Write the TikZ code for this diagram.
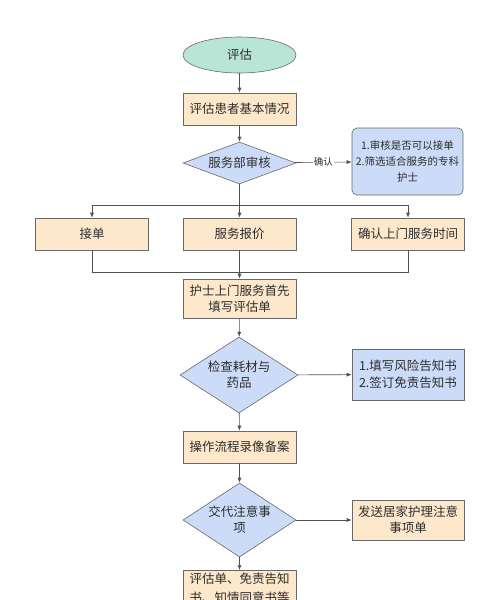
\documentclass[tikz,border=0pt]{standalone}
\usepackage{fontspec}
\setmainfont{Noto Sans CJK SC}
\usetikzlibrary{shapes.geometric,arrows.meta,positioning,calc}
\definecolor{flowMint}{RGB}{185,229,214}
\definecolor{flowPeach}{RGB}{253,232,204}
\definecolor{flowBlue}{RGB}{204,220,248}
\definecolor{flowEdge}{RGB}{105,105,105}
\definecolor{flowLine}{RGB}{80,80,80}
\definecolor{flowText}{RGB}{45,45,45}

\tikzset{
  stepbox/.style={draw=flowEdge, fill=flowPeach, line width=0.6pt, minimum width=113pt, minimum height=32pt, inner sep=2pt, align=center, text=flowText, font=\fontsize{12.5}{16}\selectfont},
  notebox/.style={draw=flowEdge, fill=flowBlue, line width=0.6pt, minimum width=112pt, inner sep=2pt, align=center, text=flowText},
  checkdiamond/.style={diamond, draw=flowEdge, fill=flowBlue, line width=0.6pt, inner sep=0pt, align=center, text=flowText, font=\fontsize{12.5}{16}\selectfont},
  flow/.style={draw=flowLine, line width=0.6pt, -{Latex[length=5pt,width=4pt]}},
  plain/.style={draw=flowLine, line width=0.6pt}
}

\begin{document}
\begin{tikzpicture}[x=1pt,y=-1pt]

\fill[white] (0,0) rectangle (500,600);
\clip (0,0) rectangle (500,600);

% ===== MAIN COLUMN =====
\node[ellipse, draw=flowEdge, fill=flowMint, line width=0.6pt, minimum width=113pt, minimum height=36pt, text=flowText, font=\fontsize{12.5}{16}\selectfont] (start) at (239.5, 55) {评估};

% Step 1: basic condition
\node[stepbox] (assess) at (239.5, 109) {评估患者基本情况};

% Decision 1: department review
\node[checkdiamond, aspect=2.7, minimum width=113pt, minimum height=42pt] (review) at (239.5, 163) {服务部审核};

% Review note
\node[notebox, rounded corners=5pt, minimum width=111pt, minimum height=67pt, font=\fontsize{10.5}{16}\selectfont] (reviewnote) at (407.5, 161.5) {1.审核是否可以接单\\2.筛选适合服务的专科\\护士};

% Three parallel boxes
\node[stepbox] (accept) at (92, 234) {接单};
\node[stepbox] (quote) at (239.5, 234) {服务报价};
\node[stepbox] (visittime) at (408, 234) {确认上门服务时间};

% Step 2: fill in form
\node[stepbox, minimum height=39pt] (fillform) at (239.5, 298.5) {护士上门服务首先\\填写评估单};

% Decision 2: materials
\node[checkdiamond, aspect=1.5, minimum width=118pt, minimum height=76pt] (materials) at (239, 375) {检查耗材与\\药品};

% Materials note
\node[notebox, minimum height=51pt, font=\fontsize{12.5}{17}\selectfont] (consent) at (408, 374.5) {1.填写风险告知书\\2.签订免责告知书};

% Step 3: video record
\node[stepbox] (record) at (239.5, 447) {操作流程录像备案};

% Decision 3: instructions
\node[checkdiamond, aspect=1.6, minimum width=113pt, minimum height=74pt] (explain) at (239.5, 520) {交代注意事\\项};

% Home care sheet
\node[stepbox, minimum width=112pt, minimum height=40pt] (homecare) at (408, 520) {发送居家护理注意\\事项单};

% Step 4: documents (runs off the page)
\node[stepbox, anchor=north, minimum height=0pt, inner xsep=2pt, inner ysep=2.5pt, font=\fontsize{12.5}{19}\selectfont] (documents) at (239.5, 570) {评估单、免责告知\\书、知情同意书等};

% Split and join points
\coordinate (split) at (239.5, 205);
\coordinate (join) at (239.5, 272);

% ===== CONNECTORS =====
\draw[flow] (start) -- (assess);
\draw[flow] (assess) -- (review);
\draw[flow] (review) -- node[fill=white, inner sep=1pt, text=flowText, font=\fontsize{9.5}{11}\selectfont] {确认} (reviewnote);
\draw[plain] (review) -- (split);
\draw[flow] (split) -| (accept);
\draw[flow] (split) -- (quote);
\draw[flow] (split) -| (visittime);
\draw[plain] (accept) |- (join);
\draw[plain] (visittime) |- (join);
\draw[flow] (quote) -- (fillform);
\draw[flow] (fillform) -- (materials);
\draw[flow] (materials) -- (consent);
\draw[flow] (materials) -- (record);
\draw[flow] (record) -- (explain);
\draw[flow] (explain) -- (homecare);
\draw[flow] (explain) -- (documents);

\end{tikzpicture}
\end{document}
